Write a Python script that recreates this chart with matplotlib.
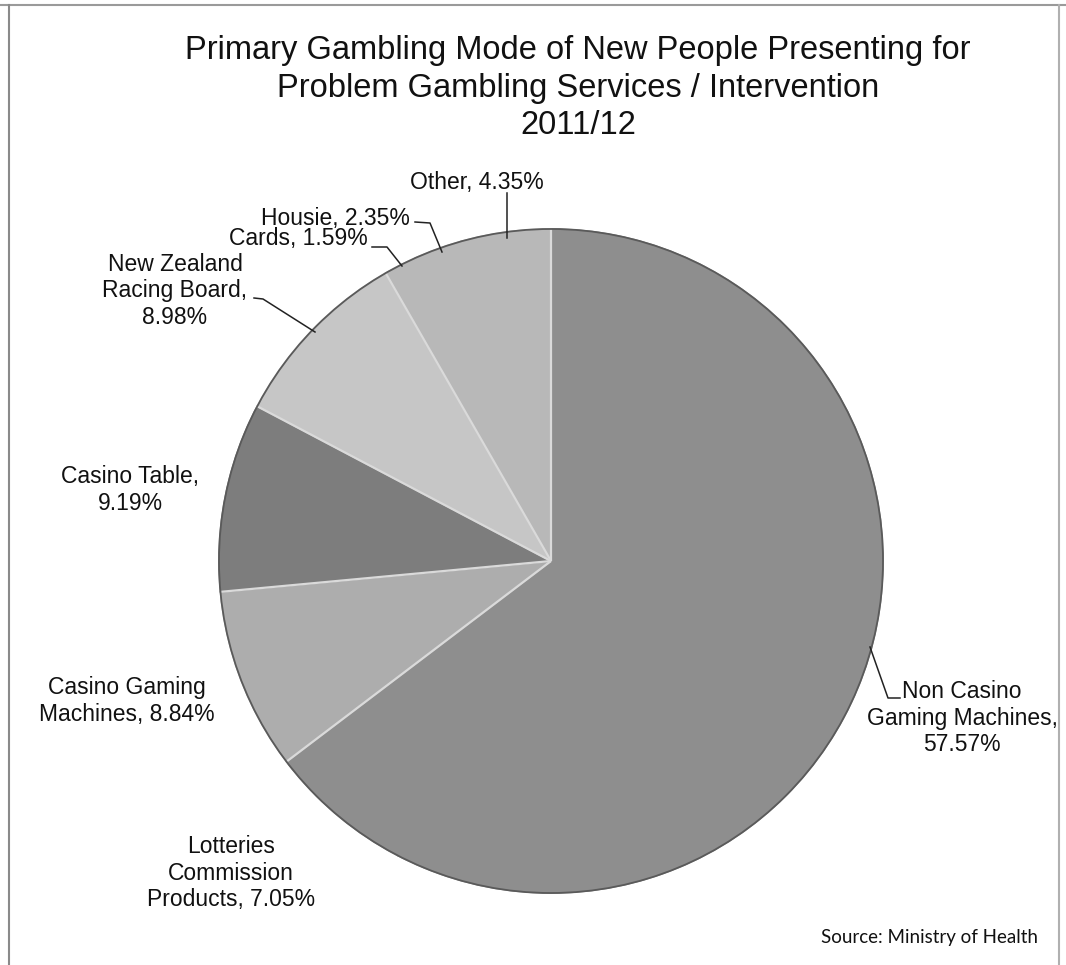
import matplotlib
matplotlib.use("Agg")
import matplotlib.pyplot as plt
import numpy as np
from matplotlib.patches import Circle

# Data: shares of new clients by primary gambling mode (clockwise from 12 o'clock)
categories = [
    "Non Casino Gaming Machines",
    "Lotteries Commission Products",
    "Casino Gaming Machines",
    "Casino Table",
    "New Zealand Racing Board",
    "Cards",
    "Housie",
    "Other",
]
shares = [57.57, 7.05, 8.84, 9.19, 8.98, 1.59, 2.35, 4.35]

# Label text lines for each slice
label_lines = [
    ["Non Casino", "Gaming Machines,", "{v:.2f}%"],
    ["Lotteries", "Commission", "Products, {v:.2f}%"],
    ["Casino Gaming", "Machines, {v:.2f}%"],
    ["Casino Table,", "{v:.2f}%"],
    ["New Zealand", "Racing Board,", "{v:.2f}%"],
    ["Cards, {v:.2f}%"],
    ["Housie, {v:.2f}%"],
    ["Other, {v:.2f}%"],
]

# Styling / layout (pixel coordinates, y down)
colors = ["#8e8e8e", "#8e8e8e", "#adadad", "#7d7d7d",
          "#c6c6c6", "#b8b8b8", "#b8b8b8", "#b8b8b8"]
label_pos = [(962, 718, "center"), (231, 873, "center"), (127, 701, "center"),
             (130, 490, "center"), (175, 291, "center"), (368, 239, "right"),
             (410, 218, "right"), (477, 183, "center")]
leaders = [
    [(900, 698), (888, 698), (870, 647)],
    None,
    None,
    None,
    [(254, 298), (263, 299), (315, 332)],
    [(372, 247), (387, 247), (402, 266)],
    [(415, 222), (430, 223), (442, 252)],
    [(507, 193), (507, 238)],
]
# slice boundaries drawn as visible separators (index of wedge whose start edge is shown)
separator_edges = [0, 2, 3, 4, 5]

W, H = 1066, 965
CX, CY, R = 551, 561, 332

fig = plt.figure(figsize=(W / 100, H / 100), dpi=100)
ax = fig.add_axes([0, 0, 1, 1])

wedges, _ = ax.pie(shares, colors=colors, startangle=-90, counterclock=True,
                   center=(CX, CY), radius=R,
                   wedgeprops=dict(linewidth=1.2))
# edges in the fill colour so neighbouring slices of one shade blend seamlessly
for w, c in zip(wedges, colors):
    w.set_edgecolor(c)

ax.set_xlim(0, W)
ax.set_ylim(H, 0)
ax.set_aspect("auto")
ax.axis("off")

# radial separators at chosen slice boundaries
for i in separator_edges:
    w = wedges[i]
    th = np.deg2rad(w.theta1)
    cx, cy = w.center
    ax.plot([cx, cx + w.r * np.cos(th)], [cy, cy + w.r * np.sin(th)],
            color="#dadada", lw=1.6, solid_capstyle="butt", zorder=3)

# outer outline
ax.add_patch(Circle(wedges[0].center, wedges[0].r, fill=False,
                    edgecolor="#5a5a5a", lw=1.3, zorder=4))

font = "Liberation Sans"
label_fs = 16.5
line_h = 26.5

for lines, v, (x, y, ha) in zip(label_lines, shares, label_pos):
    n = len(lines)
    for k, ln in enumerate(lines):
        yy = y + (k - (n - 1) / 2) * line_h
        ax.text(x, yy, ln.format(v=v), ha=ha, va="center", fontsize=label_fs,
                family=font, color="#111111", zorder=5)

for pts in leaders:
    if pts:
        xs, ys = zip(*pts)
        ax.plot(xs, ys, color="#222222", lw=1.1, zorder=5)

# title
title_lines = ["Primary Gambling Mode of New People Presenting for",
               "Problem Gambling Services / Intervention",
               "2011/12"]
for k, t in enumerate(title_lines):
    ax.text(578, 51 + 37 * k, t, ha="center", va="center", fontsize=23.5,
            family=font, color="#111111")

# source note
ax.text(1038, 937, "Source: Ministry of Health", ha="right", va="center",
        fontsize=13.5, family="Lato", color="#111111")

# frame lines
ax.plot([0, W], [5, 5], color="#9a9a9a", lw=1.5)
ax.plot([9, 9], [5, H], color="#8a8a8a", lw=1.5)
ax.plot([1059, 1059], [5, H], color="#b0b0b0", lw=1.5)

fig.savefig("out.png", dpi=100)
